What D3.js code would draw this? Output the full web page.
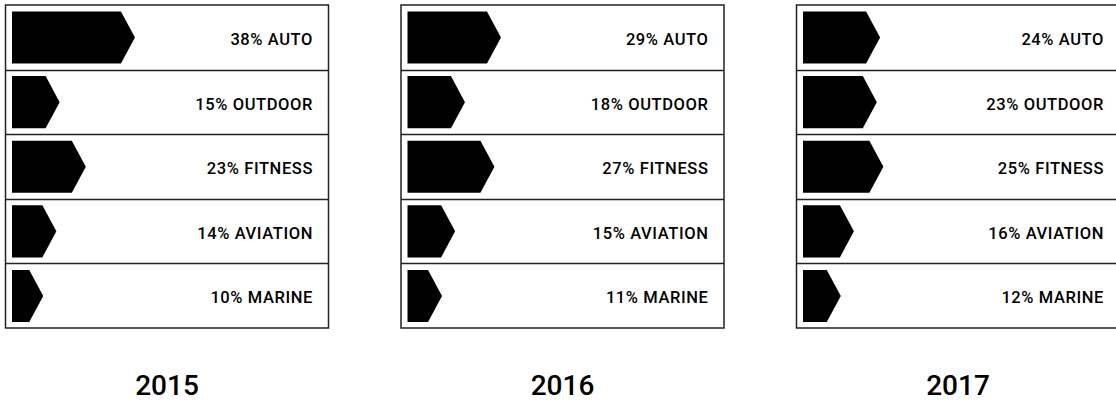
<!DOCTYPE html>
<html>
<head>
<meta charset="utf-8">
<script src="https://cdn.jsdelivr.net/npm/d3@7"></script>
<style>
  body { margin: 0; background: #fff; }
  svg { display: block; }
  .lbl { font-family: Roboto, sans-serif; font-weight: 500; font-size: 16.5px; letter-spacing: 0.6px; fill: #000; }
  .year { font-family: Roboto, sans-serif; font-weight: 500; font-size: 28px; fill: #000; }
</style>
</head>
<body>
<div id="chart"></div>
<script>
// data
var years = ["2015", "2016", "2017"]
var categories = ["AUTO", "OUTDOOR", "FITNESS", "AVIATION", "MARINE"]
var share2015 = [38, 15, 23, 14, 10]
var share2016 = [29, 18, 27, 15, 11]
var share2017 = [24, 23, 25, 16, 12]
var shares = [share2015, share2016, share2017]

var W = 1116, H = 402
var panelW = 323, panelH = 323, panelTop = 5
var step = 395.5, firstLeft = 5.5
var tipDepth = 14

var svg = d3.select('#chart').append('svg').attr('width', W).attr('height', H)

// one scale for the three panels, positions relative to panel left
var x = d3.scaleLinear().domain([0, 100]).range([5, 332.5])
var y = d3.scaleBand().domain(categories).range([0, panelH])

years.forEach(function(yr, i){
  var g = svg.append('g').attr('transform', 'translate(' + (firstLeft + i*step) + ',' + panelTop + ')')
  var data = categories.map(function(c, j){ return {cat: c, v: shares[i][j]} })

  var rows = g.selectAll('g.row').data(data).enter().append('g')
    .attr('class', 'row')
    .attr('transform', function(d){ return 'translate(0,' + y(d.cat) + ')' })

  // arrow shaped bars
  rows.append('path')
    .attr('fill', '#000')
    .attr('d', function(d){
      var x0 = 6.5, tip = x(d.v), body = tip - tipDepth
      var t = 6.5, b = y.bandwidth() - 6, m = (t + b) / 2
      return 'M' + x0 + ',' + t + 'L' + body + ',' + t + 'L' + tip + ',' + m +
             'L' + body + ',' + b + 'L' + x0 + ',' + b + 'Z'
    })

  rows.append('text')
    .attr('class', 'lbl')
    .attr('x', panelW - 15.5)
    .attr('y', y.bandwidth()/2 + 7.7)
    .attr('text-anchor', 'end')
    .text(function(d){ return d.v + '% ' + d.cat })

  // row dividers
  g.selectAll('line.div').data(categories.slice(1)).enter().append('line')
    .attr('x1', 0).attr('x2', panelW)
    .attr('y1', function(d){ return Math.round(y(d)) + 0.5 })
    .attr('y2', function(d){ return Math.round(y(d)) + 0.5 })
    .attr('stroke', '#222').attr('stroke-width', 1.5)

  g.append('rect')
    .attr('width', panelW).attr('height', panelH)
    .attr('fill', 'none').attr('stroke', '#222').attr('stroke-width', 1.5)

  g.append('text')
    .attr('class', 'year')
    .attr('x', panelW/2)
    .attr('y', 390)
    .attr('text-anchor', 'middle')
    .text(yr)
})
</script>
</body>
</html>
